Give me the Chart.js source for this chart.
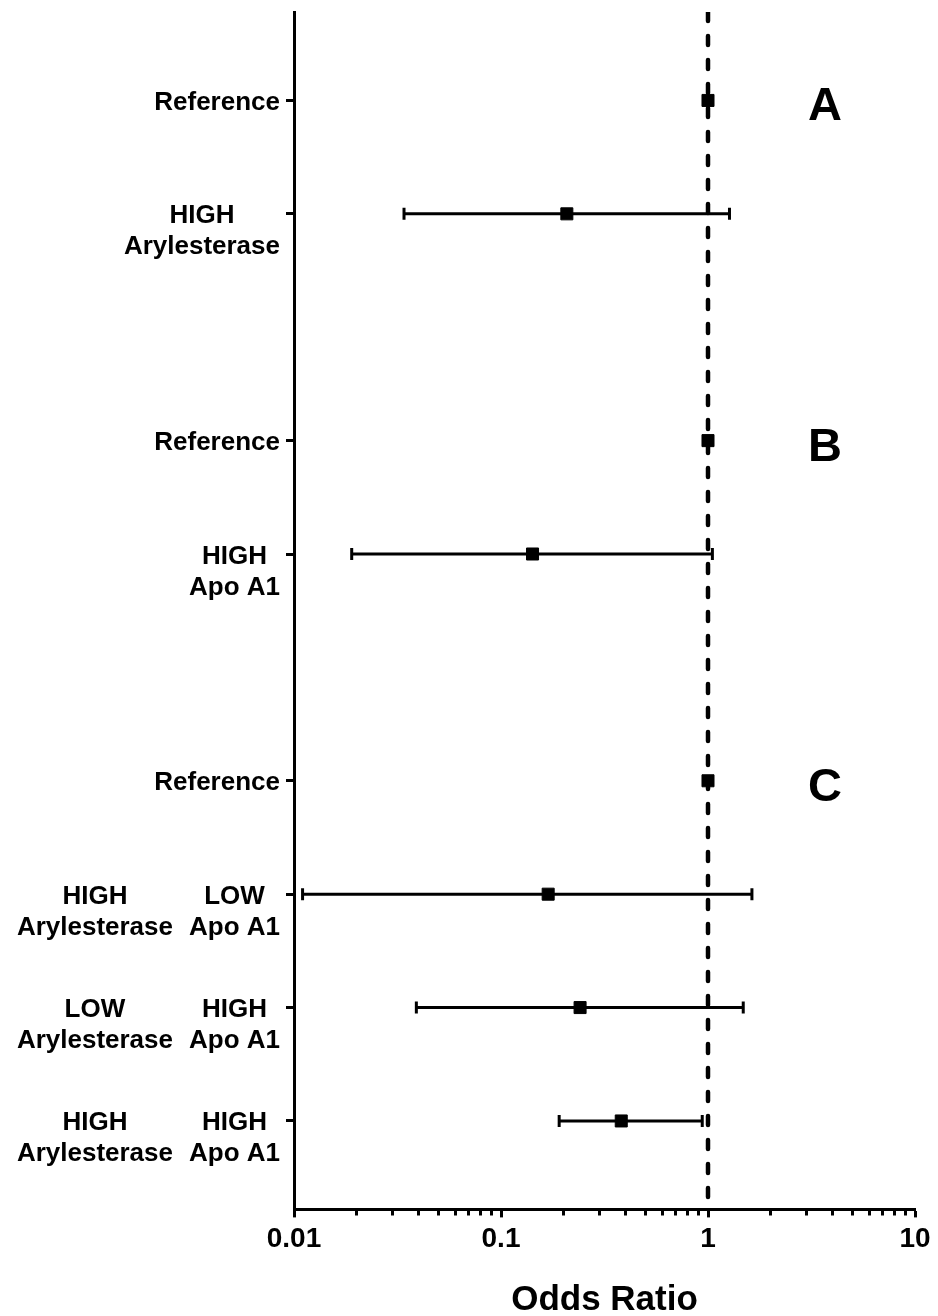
<!DOCTYPE html>
<html>
<head>
<meta charset="utf-8">
<script src="https://cdn.jsdelivr.net/npm/chart.js@4"></script>
<style>
  html, body { margin: 0; padding: 0; background: #fff; }
  .container { width: 938px; height: 1316px; position: relative; }
</style>
</head>
<body>
<div class="container">
  <canvas id="forestChart"></canvas>
</div>
<script>
// rows from top to bottom; null = blank spacer row
// each label is a list of columns, each column a list of lines
const rowLabels = [
  [['Reference']],
  [['HIGH', 'Arylesterase']],
  null,
  [['Reference']],
  [['HIGH', 'Apo A1']],
  null,
  [['Reference']],
  [['HIGH', 'Arylesterase'], ['LOW', 'Apo A1']],
  [['LOW', 'Arylesterase'], ['HIGH', 'Apo A1']],
  [['HIGH', 'Arylesterase'], ['HIGH', 'Apo A1']]
]
const oddsRatio = [1, 0.208, null, 1, 0.142, null, 1, 0.169, 0.241, 0.381]
const ciLower = [null, 0.034, null, null, 0.019, null, null, 0.011, 0.039, 0.191]
const ciUpper = [null, 1.27, null, null, 1.05, null, null, 1.63, 1.48, 0.938]
const panelLetters = ['A', 'B', 'C']
const panelRows = [0, 3, 6]
const xTickLabels = [0.01, 0.1, 1, 10]
const refLine = 1
const yMin = -0.78
const yMax = 9.78

const FONT = "'Liberation Sans', Arial, sans-serif"
Chart.defaults.font.family = FONT
Chart.defaults.color = '#000'

// minor log ticks between the labelled decades
const xTicks = []
xTickLabels.forEach((d, i) => {
  xTicks.push(d)
  if (i < xTickLabels.length - 1) {
    for (let m = 2; m <= 9; m++) xTicks.push(+(d * m).toPrecision(3))
  }
})

const points = []
rowLabels.forEach((lab, i) => {
  if (oddsRatio[i] != null) points.push({ x: oddsRatio[i], y: i })
})

const ciSets = []
rowLabels.forEach((lab, i) => {
  if (ciLower[i] == null) return
  ciSets.push({
    type: 'line',
    data: [{ x: ciLower[i], y: i }, { x: ciUpper[i], y: i }],
    borderColor: '#000',
    borderWidth: 3,
    pointStyle: 'line',
    pointRotation: 90,
    pointRadius: 6,
    pointBorderWidth: 3,
    pointBorderColor: '#000',
    order: 3
  })
})

const labelPlugin = {
  id: 'rowLabels',
  afterDraw(chart) {
    const ctx = chart.ctx
    const yScale = chart.scales.y
    const xScale = chart.scales.x
    const rightEdge = yScale.left - 6
    ctx.save()
    ctx.fillStyle = '#000'
    ctx.font = 'bold 26px ' + FONT
    ctx.textBaseline = 'alphabetic'
    rowLabels.forEach((cols, i) => {
      if (!cols) return
      const yPix = yScale.getPixelForValue(i)
      let right = rightEdge
      for (let c = cols.length - 1; c >= 0; c--) {
        const lines = cols[c]
        const w = Math.max(...lines.map(l => ctx.measureText(l).width))
        const cx = right - w / 2
        ctx.textAlign = 'center'
        lines.forEach((line, k) => {
          ctx.fillText(line, cx, yPix + 9.5 + k * 31)
        })
        right -= w + 16
      }
    })
    ctx.font = 'bold 47px ' + FONT
    ctx.textAlign = 'center'
    panelLetters.forEach((letter, k) => {
      ctx.fillText(letter, xScale.getPixelForValue(3.67), yScale.getPixelForValue(panelRows[k]) + 20)
    })
    ctx.restore()
  }
}

const config = {
  type: 'scatter',
  data: {
    datasets: [
      {
        data: points,
        pointStyle: 'rect',
        pointRadius: 8.5,
        pointBackgroundColor: '#000',
        pointBorderColor: '#000',
        pointBorderWidth: 1,
        order: 1
      },
      {
        type: 'line',
        data: [{ x: refLine, y: yMin }, { x: refLine, y: yMax }],
        borderColor: '#000',
        borderWidth: 4.5,
        borderDash: [9, 15],
        borderCapStyle: 'round',
        pointRadius: 0,
        order: 2
      },
      ...ciSets
    ]
  },
  options: {
    responsive: true,
    maintainAspectRatio: false,
    animation: false,
    events: [],
    layout: { padding: { left: 286, right: 23, top: 12, bottom: 0 } },
    plugins: { legend: { display: false }, tooltip: { enabled: false } },
    scales: {
      x: {
        type: 'logarithmic',
        min: 0.01,
        max: 10,
        afterBuildTicks: scale => { scale.ticks = xTicks.map(v => ({ value: v })) },
        ticks: {
          autoSkip: false,
          maxRotation: 0,
          padding: 5,
          font: { size: 28, weight: 'bold' },
          callback: v => xTickLabels.includes(v) ? String(v) : ''
        },
        grid: {
          drawOnChartArea: false,
          tickLength: 8,
          tickWidth: 3,
          tickColor: '#000',
          tickBorderDash: c => (c.tick && xTickLabels.includes(c.tick.value)) ? [] : [4.5, 30]
        },
        border: { display: true, color: '#000', width: 3 },
        title: {
          display: true,
          text: 'Odds Ratio',
          font: { size: 35, weight: 'bold', lineHeight: 1 },
          padding: { top: 22, bottom: -2 }
        }
      },
      y: {
        type: 'linear',
        reverse: true,
        min: yMin,
        max: yMax,
        afterBuildTicks: scale => {
          scale.ticks = rowLabels.map((l, i) => l ? { value: i } : null).filter(Boolean)
        },
        ticks: { display: false },
        grid: {
          drawOnChartArea: false,
          tickLength: 8,
          tickWidth: 3,
          tickColor: '#000'
        },
        border: { display: true, color: '#000', width: 3 }
      }
    }
  },
  plugins: [labelPlugin]
}

const ctx = document.getElementById('forestChart')
new Chart(ctx, config)
</script>
</body>
</html>
